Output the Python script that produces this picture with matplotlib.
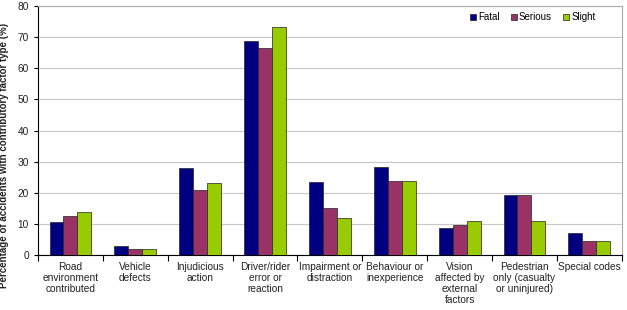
import numpy as np
import matplotlib.pyplot as plt

plt.rcParams['font.family'] = ['Liberation Sans', 'DejaVu Sans']

# Data
categories = ["Road\nenvironment\ncontributed", "Vehicle\ndefects", "Injudicious\naction",
              "Driver/rider\nerror or\nreaction", "Impairment or\ndistraction",
              "Behaviour or\ninexperience", "Vision\naffected by\nexternal\nfactors",
              "Pedestrian\nonly (casualty\nor uninjured)", "Special codes"]
fatal = [10.7, 2.9, 27.9, 68.9, 23.4, 28.5, 8.7, 19.5, 7.1]
serious = [12.8, 2.0, 21.0, 66.4, 15.2, 23.9, 9.9, 19.5, 4.7]
slight = [13.9, 2.0, 23.2, 73.2, 12.0, 23.9, 10.9, 11.1, 4.7]
series_names = ["Fatal", "Serious", "Slight"]
colors = ["#000080", "#993366", "#99CC00"]

fig = plt.figure(figsize=(6.27, 3.10), dpi=100)
ax = fig.add_axes([0.0606, 0.176, 0.931, 0.805])

x = np.arange(len(categories))
w = 0.215
for i, (vals, name, c) in enumerate(zip([fatal, serious, slight], series_names, colors)):
    ax.bar(x + (i - 1) * w, vals, width=w, color=c, edgecolor="#222222",
           linewidth=0.5, label=name, zorder=3)

ax.set_xlim(-0.5, len(categories) - 0.5)
ax.set_ylim(0, 80)
ax.set_yticks(np.arange(0, 81, 10))
ax.yaxis.grid(True, color="#c8c8c8", linewidth=0.8, zorder=0)
ax.set_axisbelow(True)

ax.set_xticks(x)
ax.set_xticklabels(categories, fontsize=7.3, color="#222222", linespacing=1.1)
ax.tick_params(axis="x", which="major", length=0, pad=5)
ax.set_xticks(np.arange(-0.5, len(categories), 1.0), minor=True)
ax.tick_params(axis="x", which="minor", length=4, width=0.8, direction="out")
ax.tick_params(axis="y", labelsize=7.3, length=3, width=0.8, labelcolor="#222222")

for s in ["left", "bottom"]:
    ax.spines[s].set_color("black")
    ax.spines[s].set_linewidth(0.8)
for s in ["top", "right"]:
    ax.spines[s].set_color("#aaaaaa")
    ax.spines[s].set_linewidth(0.8)

ax.set_ylabel("Percentage of accidents with contributory factor type (%)",
              fontsize=7, fontweight="bold", color="#222222")
ax.yaxis.set_label_coords(-0.05, 0.4025)

ax.legend(loc="upper right", bbox_to_anchor=(0.97, 1.01), ncol=3, frameon=False,
          fontsize=7, handlelength=0.6, handleheight=0.6, handletextpad=0.2,
          columnspacing=1.2)

fig.savefig("out.png", dpi=100)
